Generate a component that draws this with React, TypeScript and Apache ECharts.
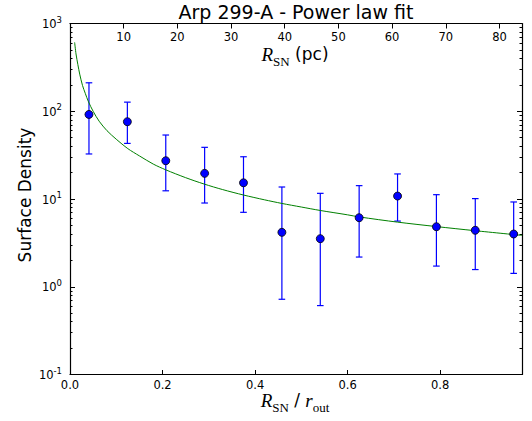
import React, { useEffect, useRef } from 'react';
import * as echarts from 'echarts';

// Binned surface density points (x = R_SN / r_out)
const xVals = [0.041, 0.124, 0.207, 0.291, 0.375, 0.458, 0.541, 0.625, 0.708, 0.792, 0.876, 0.959];
const yVals = [92, 76, 27.3, 19.6, 15.3, 4.17, 3.53, 6.12, 10.8, 4.83, 4.4, 3.99];
const errLow = [32.6, 43, 12.4, 9.0, 7.05, 0.72, 0.61, 2.18, 5.6, 1.72, 1.57, 1.42];
const errHigh = [211, 127, 53.6, 38.8, 30.3, 13.7, 11.6, 14.2, 19.3, 11.2, 10.1, 9.25];

// Power-law fit curve
const fitX = [0.01, 0.013, 0.017, 0.021, 0.027, 0.033, 0.04, 0.05, 0.063, 0.08, 0.1, 0.125, 0.15, 0.18, 0.207, 0.25, 0.29, 0.33, 0.375, 0.42, 0.458, 0.5, 0.541, 0.6, 0.625, 0.708, 0.792, 0.876, 0.977];
const fitY = [610, 450, 340, 265, 197, 160, 128, 100, 77, 60, 48, 37.5, 31, 25, 21.5, 17.5, 14.8, 12.8, 11.1, 9.8, 8.9, 8.1, 7.4, 6.6, 6.25, 5.45, 4.85, 4.35, 3.85];

// Axis ticks
const yMajorTicks = [0.1, 1, 10, 100, 1000];
const yMinorTicks = [
  0.2, 0.3, 0.4, 0.5, 0.6, 0.7, 0.8, 0.9,
  2, 3, 4, 5, 6, 7, 8, 9,
  20, 30, 40, 50, 60, 70, 80, 90,
  200, 300, 400, 500, 600, 700, 800, 900,
];
const xMin = 0;
const xMax = 0.977;
const xInterval = 0.2;
const pcMax = 84.2;
const pcInterval = 10;

const SANS = 'DejaVu Sans';
const SERIF = 'Liberation Serif';

const tickLabelStyle = { fontFamily: SANS, fontSize: 11.5, color: '#000' };

function yLabelFormatter(v: number) {
  const e = Math.round(Math.log10(v));
  return `{b|10}{s|${e}}`;
}

const yRich = {
  b: { fontFamily: SANS, fontSize: 11.5, color: '#000', lineHeight: 13, verticalAlign: 'bottom' },
  s: { fontFamily: SANS, fontSize: 8.5, color: '#000', lineHeight: 9, padding: [0, 0, 6, 0], verticalAlign: 'bottom' },
};

const labelRich = {
  i: { fontFamily: SERIF, fontStyle: 'italic', fontSize: 19, lineHeight: 20, verticalAlign: 'top', fill: '#000' },
  s: { fontFamily: SERIF, fontSize: 13, lineHeight: 12, padding: [10, 0, 0, 0], verticalAlign: 'top', fill: '#000' },
  n: { fontFamily: SANS, fontSize: 17, lineHeight: 20, verticalAlign: 'top', fill: '#000' },
};

export default function App() {
  const ref = useRef<HTMLDivElement>(null);
  useEffect(() => {
    if (!ref.current) return;
    const chart = echarts.init(ref.current, null, { renderer: 'svg' });
    const axisLine = { show: true, lineStyle: { color: '#000', width: 1.2 } };
    const option: any = {
      animation: false,
      backgroundColor: '#fff',
      grid: { left: 70, right: 10, top: 23.5, bottom: 46.5, containLabel: false, outerBoundsMode: 'none' },
      xAxis: [
        {
          type: 'value', position: 'bottom', min: xMin, max: xMax, interval: xInterval,
          axisLine, splitLine: { show: false },
          axisTick: { show: true, inside: true, length: 4.5, lineStyle: { color: '#000', width: 1 } },
          axisLabel: { ...tickLabelStyle, margin: 4, showMaxLabel: false, formatter: (v: number) => v.toFixed(1) },
        },
        {
          type: 'value', position: 'top', min: 0, max: pcMax, interval: pcInterval,
          axisLine, splitLine: { show: false },
          axisTick: { show: true, inside: true, length: 5, lineStyle: { color: '#000', width: 1 } },
          axisLabel: { ...tickLabelStyle, inside: true, margin: 7, showMinLabel: false, showMaxLabel: false, formatter: (v: number) => String(v) },
        },
      ],
      yAxis: [
        {
          type: 'log', logBase: 10, position: 'left', min: 0.1, max: 1000,
          axisLine, splitLine: { show: false }, minorTick: { show: false },
          axisTick: { show: true, inside: true, length: 5, customValues: yMajorTicks, lineStyle: { color: '#000', width: 1 } },
          axisLabel: { show: true, margin: 8, customValues: yMajorTicks, formatter: yLabelFormatter, rich: yRich },
        },
        {
          type: 'log', logBase: 10, position: 'left', min: 0.1, max: 1000,
          axisLine: { show: false }, splitLine: { show: false },
          axisTick: { show: true, inside: true, length: 2.5, customValues: yMinorTicks, lineStyle: { color: '#000', width: 1 } },
          axisLabel: { show: false },
        },
        {
          type: 'log', logBase: 10, position: 'right', min: 0.1, max: 1000,
          axisLine, splitLine: { show: false },
          axisTick: { show: true, inside: true, length: 5, customValues: yMajorTicks, lineStyle: { color: '#000', width: 1 } },
          axisLabel: { show: false },
        },
        {
          type: 'log', logBase: 10, position: 'right', min: 0.1, max: 1000,
          axisLine: { show: false }, splitLine: { show: false },
          axisTick: { show: true, inside: true, length: 2.5, customValues: yMinorTicks, lineStyle: { color: '#000', width: 1 } },
          axisLabel: { show: false },
        },
      ],
      series: [
        {
          type: 'custom',
          xAxisIndex: 0, yAxisIndex: 0,
          encode: { x: 0, y: [1, 2] },
          data: xVals.map((x, i) => [x, errLow[i], errHigh[i]]),
          z: 2,
          renderItem: (params: any, api: any) => {
            const x = api.value(0);
            const lo = api.value(1);
            const hi = api.value(2);
            const pLo = api.coord([x, lo]);
            const pHi = api.coord([x, hi]);
            const cap = 3.3;
            const style = { stroke: '#0000ff', lineWidth: 1.2, fill: 'none' };
            return {
              type: 'group',
              children: [
                { type: 'line', shape: { x1: pLo[0], y1: pLo[1], x2: pHi[0], y2: pHi[1] }, style },
                { type: 'line', shape: { x1: pLo[0] - cap, y1: pLo[1], x2: pLo[0] + cap, y2: pLo[1] }, style },
                { type: 'line', shape: { x1: pHi[0] - cap, y1: pHi[1], x2: pHi[0] + cap, y2: pHi[1] }, style },
              ],
            };
          },
        },
        {
          type: 'line',
          xAxisIndex: 0, yAxisIndex: 0,
          data: fitX.map((x, i) => [x, fitY[i]]),
          smooth: 0.3,
          showSymbol: false,
          symbol: 'none',
          lineStyle: { color: '#008000', width: 1 },
          z: 3,
        },
        {
          type: 'scatter',
          xAxisIndex: 0, yAxisIndex: 0,
          data: xVals.map((x, i) => [x, yVals[i]]),
          symbol: 'circle',
          symbolSize: 8,
          itemStyle: { color: '#0000ff', borderColor: '#000', borderWidth: 0.8, opacity: 1 },
          z: 4,
        },
      ],
      graphic: [
        {
          type: 'text', x: 296, y: 12, z: 10,
          style: { text: 'Arp 299-A - Power law fit', font: `19px "${SANS}"`, fill: '#000', align: 'center', verticalAlign: 'middle' },
        },
        {
          type: 'text', x: 25, y: 195, rotation: Math.PI / 2, z: 10,
          style: { text: 'Surface Density', font: `17px "${SANS}"`, fill: '#000', align: 'center', verticalAlign: 'middle' },
        },
        {
          type: 'text', x: 295, y: 401, z: 10,
          style: { text: '{i|R}{s|SN}{n| / }{i|r}{s|out}', align: 'center', verticalAlign: 'middle', rich: labelRich },
        },
        {
          type: 'text', x: 295, y: 55, z: 10,
          style: { text: '{i|R}{s|SN}{n| (pc)}', align: 'center', verticalAlign: 'middle', rich: labelRich },
        },
      ],
    };
    chart.setOption(option);
    return () => chart.dispose();
  }, []);
  return (
    <div
      ref={ref}
      style={{ position: 'fixed', left: 0, top: 0, width: 532, height: 421, background: '#fff' }}
    />
  );
}
